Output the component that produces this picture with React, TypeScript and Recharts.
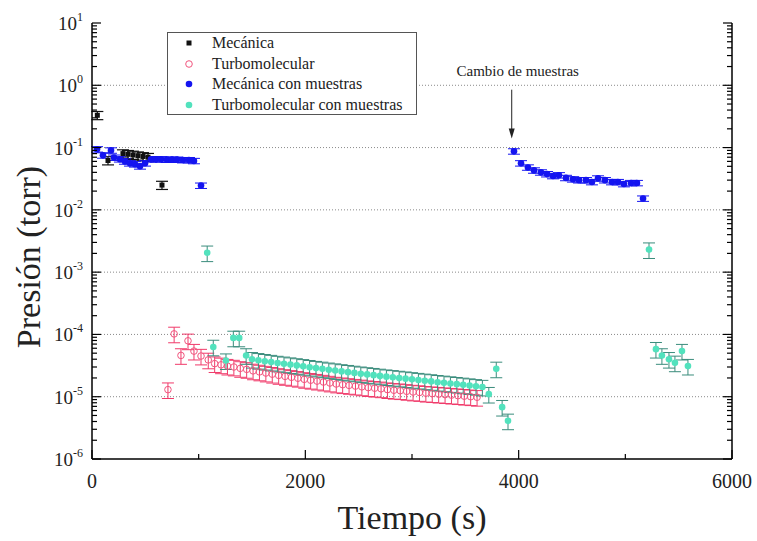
import React from 'react'
import { ScatterChart, Scatter, XAxis, YAxis, ErrorBar, ReferenceLine, Legend } from 'recharts'

const SERIF = '"Liberation Serif", "Times New Roman", Times, serif'

// Mecánica
const mecanicaT = [50, 150, 290, 337, 384, 431, 478, 525, 656]
const mecanicaP = [0.33, 0.062, 0.08, 0.078, 0.076, 0.074, 0.072, 0.07, 0.025]

// Turbomolecular
const turboT = [
  712, 770, 834, 900, 956, 1022, 1090, 1150, 1210, 1270, 1330, 1390, 1450, 1510, 1570, 1630, 1690,
  1750, 1810, 1870, 1930, 1990, 2050, 2110, 2170, 2230, 2290, 2350, 2410, 2470, 2530, 2590, 2650,
  2710, 2770, 2830, 2890, 2950, 3010, 3070, 3130, 3190, 3250, 3310, 3370, 3430, 3490, 3550, 3610,
]
const turboP = [
  1.3e-5, 1.02e-4, 4.6e-5, 7.9e-5, 5.4e-5, 4.5e-5, 3.9e-5, 3.4e-5, 3.25e-5, 3.1e-5, 3.0e-5, 2.85e-5,
  2.75e-5, 2.6e-5, 2.5e-5, 2.4e-5, 2.3e-5, 2.2e-5, 2.12e-5, 2.05e-5, 1.98e-5, 1.9e-5, 1.84e-5,
  1.78e-5, 1.72e-5, 1.66e-5, 1.6e-5, 1.56e-5, 1.52e-5, 1.48e-5, 1.44e-5, 1.4e-5, 1.37e-5, 1.34e-5,
  1.3e-5, 1.27e-5, 1.25e-5, 1.22e-5, 1.19e-5, 1.17e-5, 1.14e-5, 1.12e-5, 1.1e-5, 1.08e-5, 1.06e-5,
  1.04e-5, 1.02e-5, 1.0e-5, 0.98e-5,
]

// Mecánica con muestras
const mecMuestrasT = [
  47, 103, 178, 206, 262, 309, 356, 403, 450, 497, 553, 600, 647, 703, 750, 797, 853, 909, 956, 1022,
  3956, 4022, 4087, 4144, 4209, 4266, 4322, 4378, 4444, 4509, 4566, 4631, 4687, 4744, 4809, 4875,
  4931, 4987, 5053, 5109, 5166,
]
const mecMuestrasP = [
  0.094, 0.075, 0.09, 0.069, 0.065, 0.06, 0.056, 0.054, 0.05, 0.056, 0.065, 0.065, 0.065, 0.064,
  0.064, 0.064, 0.063, 0.063, 0.061, 0.0245,
  0.087, 0.056, 0.048, 0.043, 0.04, 0.0375, 0.035, 0.036, 0.0326, 0.031, 0.03, 0.03, 0.028, 0.032,
  0.03, 0.028, 0.028, 0.026, 0.027, 0.027, 0.0152,
]

// Turbomolecular con muestras
const turboMuestrasT = [
  1080, 1137, 1256, 1325, 1380, 1445, 1500, 1560, 1620, 1680, 1740, 1800, 1860, 1920, 1980, 2040,
  2100, 2160, 2220, 2280, 2340, 2400, 2460, 2520, 2580, 2640, 2700, 2760, 2820, 2880, 2940, 3000,
  3060, 3120, 3180, 3240, 3300, 3360, 3420, 3480, 3540, 3600, 3660, 3720, 3790, 3845, 3900,
  5222, 5287, 5343, 5409, 5465, 5531, 5587,
]
const turboMuestrasP = [
  2.05e-3, 6.3e-5, 3.8e-5, 8.8e-5, 8.8e-5, 4.6e-5, 4.0e-5, 3.85e-5, 3.72e-5, 3.6e-5, 3.48e-5,
  3.38e-5, 3.28e-5, 3.18e-5, 3.08e-5, 2.98e-5, 2.88e-5, 2.8e-5, 2.71e-5, 2.63e-5, 2.55e-5, 2.48e-5,
  2.41e-5, 2.34e-5, 2.28e-5, 2.22e-5, 2.16e-5, 2.1e-5, 2.05e-5, 2.0e-5, 1.95e-5, 1.9e-5, 1.85e-5,
  1.8e-5, 1.76e-5, 1.71e-5, 1.67e-5, 1.63e-5, 1.59e-5, 1.55e-5, 1.51e-5, 1.47e-5, 1.43e-5, 1.1e-5,
  2.8e-5, 6.8e-6, 4.1e-6,
  2.3e-3, 5.8e-5, 4.6e-5, 4.0e-5, 3.5e-5, 5.4e-5, 3.1e-5,
]

// incertidumbre relativa de cada medidor
const errMecanica = 0.15
const errTurbo = 0.28
const errMecMuestras = 0.1
const errTurboMuestras = 0.28

const xTicks = [0, 1000, 2000, 3000, 4000, 5000, 6000]
const decades = [-6, -5, -4, -3, -2, -1, 0, 1]
const gridDecades = [1, 0.1, 0.01, 1e-3, 1e-4, 1e-5]

const yTicks = decades.flatMap((d) =>
  d === 1 ? [10] : [1, 2, 3, 4, 5, 6, 7, 8, 9].map((m) => m * Math.pow(10, d))
)

const build = (t: number[], p: number[], rel: number) =>
  t.map((x, i) => ({ t: x, p: p[i], e: p[i] * rel }))

const COLORS = {
  black: '#111111',
  pink: '#f2557e',
  pinkBar: '#f03a6a',
  blue: '#1414f0',
  teal: '#52e2bd',
  tealBar: '#3a8c7c',
}

const isMajor = (v: number) => {
  const exp = Math.round(Math.log10(v))
  return Math.abs(v / Math.pow(10, exp) - 1) < 1e-6
}

const LeftTick = ({ x, y, payload }: any) => {
  const axisX = x + 6
  const v = payload.value
  const major = isMajor(v)
  const exp = Math.round(Math.log10(v))
  return (
    <g>
      <line x1={axisX} x2={axisX + (major ? 9 : 5)} y1={y} y2={y} stroke="#000" strokeWidth={1.2} />
      {major && (
        <text x={axisX - 9} y={y + 7} textAnchor="end" fontFamily={SERIF} fontSize={19} fill="#222">
          10
          <tspan dy={-9} fontSize={12}>
            {exp}
          </tspan>
        </text>
      )}
    </g>
  )
}

const RightTick = ({ x, y, payload }: any) => {
  const axisX = x - 6
  const major = isMajor(payload.value)
  return <line x1={axisX} x2={axisX - (major ? 9 : 5)} y1={y} y2={y} stroke="#000" strokeWidth={1.2} />
}

const BottomTick = ({ x, y, payload }: any) => {
  const axisY = y - 6
  const major = payload.value % 2000 === 0
  return (
    <g>
      <line x1={x} x2={x} y1={axisY} y2={axisY - (major ? 9 : 5)} stroke="#000" strokeWidth={1.2} />
      {major && (
        <text x={x} y={axisY + 29} textAnchor="middle" fontFamily={SERIF} fontSize={20} fill="#222">
          {payload.value}
        </text>
      )}
    </g>
  )
}

const TopTick = ({ x, y, payload }: any) => {
  const axisY = y + 6
  const major = payload.value % 2000 === 0
  return <line x1={x} x2={x} y1={axisY} y2={axisY + (major ? 9 : 5)} stroke="#000" strokeWidth={1.2} />
}

const SquareDot = ({ cx, cy }: any) => <rect x={cx - 2.5} y={cy - 2.5} width={5} height={5} fill={COLORS.black} />
const OpenDot = ({ cx, cy }: any) => <circle cx={cx} cy={cy} r={3.3} fill="none" stroke={COLORS.pink} strokeWidth={1} />
const BlueDot = ({ cx, cy }: any) => <circle cx={cx} cy={cy} r={3.3} fill={COLORS.blue} />
const TealDot = ({ cx, cy }: any) => <circle cx={cx} cy={cy} r={3.3} fill={COLORS.teal} />

const ArrowNote = ({ x1, y1, x2, y2 }: any) => (
  <g>
    <text x={x1 + 6} y={y1 - 14} textAnchor="middle" fontFamily={SERIF} fontSize={15} fill="#222">
      Cambio de muestras
    </text>
    <line x1={x1} y1={y1} x2={x2} y2={y2 - 8} stroke="#222" strokeWidth={1} />
    <polygon points={`${x2},${y2} ${x2 - 3},${y2 - 10} ${x2 + 3},${y2 - 10}`} fill="#222" />
  </g>
)

const legendItems = [
  { name: 'Mecánica', Dot: SquareDot },
  { name: 'Turbomolecular', Dot: OpenDot },
  { name: 'Mecánica con muestras', Dot: BlueDot },
  { name: 'Turbomolecular con muestras', Dot: TealDot },
]

const LegendBox = () => (
  <div
    style={{
      border: '1px solid #555',
      background: '#fff',
      width: 250,
      height: 83,
      boxSizing: 'border-box',
      fontFamily: SERIF,
      fontSize: 16,
      color: '#222',
    }}
  >
    {legendItems.map(({ name, Dot }) => (
      <div key={name} style={{ height: 20.5, display: 'flex', alignItems: 'center' }}>
        <svg width={44} height={20} style={{ flex: 'none' }}>
          <Dot cx={21} cy={10} />
        </svg>
        <span style={{ lineHeight: '20px' }}>{name}</span>
      </div>
    ))}
  </div>
)

const XTitle = ({ viewBox }: any) => (
  <text
    x={viewBox.x + viewBox.width / 2}
    y={viewBox.y + 70}
    textAnchor="middle"
    fontFamily={SERIF}
    fontSize={34}
    fill="#222"
  >
    Tiempo (s)
  </text>
)

const YTitle = ({ viewBox }: any) => {
  const cx = 40
  const cy = viewBox.y + viewBox.height / 2 + 16
  return (
    <text
      x={cx}
      y={cy}
      transform={`rotate(-90, ${cx}, ${cy})`}
      textAnchor="middle"
      fontFamily={SERIF}
      fontSize={34}
      fill="#222"
    >
      Presión (torr)
    </text>
  )
}

export default function App() {
  const mecanica = build(mecanicaT, mecanicaP, errMecanica)
  const turbo = build(turboT, turboP, errTurbo)
  const mecMuestras = build(mecMuestrasT, mecMuestrasP, errMecMuestras)
  const turboMuestras = build(turboMuestrasT, turboMuestrasP, errTurboMuestras)

  return (
    <div style={{ position: 'fixed', left: 0, top: 0, width: 757, height: 541, background: '#fff' }}>
      <ScatterChart width={757} height={541} margin={{ top: 23, right: 24, bottom: 0, left: 32 }}>
        <XAxis
          dataKey="t"
          type="number"
          domain={[0, 6000]}
          ticks={xTicks}
          interval={0}
          tickLine={false}
          tickSize={0}
          tickMargin={6}
          tick={(p: any) => <BottomTick {...p} />}
          axisLine={{ stroke: '#000', strokeWidth: 1.5 }}
          height={82}
          allowDataOverflow
          label={(p: any) => <XTitle {...p} />}
        />
        <XAxis
          xAxisId="top"
          orientation="top"
          type="number"
          domain={[0, 6000]}
          ticks={xTicks}
          interval={0}
          tickLine={false}
          tickSize={0}
          tickMargin={6}
          tick={(p: any) => <TopTick {...p} />}
          axisLine={{ stroke: '#000', strokeWidth: 1.5 }}
          height={0}
          allowDataOverflow
        />
        <YAxis
          dataKey="p"
          type="number"
          scale="log"
          domain={[1e-6, 10]}
          ticks={yTicks}
          interval={0}
          tickLine={false}
          tickSize={0}
          tickMargin={6}
          tick={(p: any) => <LeftTick {...p} />}
          axisLine={{ stroke: '#000', strokeWidth: 1.5 }}
          width={60}
          allowDataOverflow
          label={(p: any) => <YTitle {...p} />}
        />
        <YAxis
          yAxisId="right"
          orientation="right"
          type="number"
          scale="log"
          domain={[1e-6, 10]}
          ticks={yTicks}
          interval={0}
          tickLine={false}
          tickSize={0}
          tickMargin={6}
          tick={(p: any) => <RightTick {...p} />}
          axisLine={{ stroke: '#000', strokeWidth: 1.5 }}
          width={1}
          allowDataOverflow
        />

        {gridDecades.map((d) => (
          <ReferenceLine key={d} y={d} stroke="#8a8a8a" strokeDasharray="1 2" strokeWidth={1} />
        ))}

        <ReferenceLine
          segment={[
            { x: 3935, y: 0.85 },
            { x: 3935, y: 0.14 },
          ]}
          shape={(p: any) => <ArrowNote {...p} />}
        />

        <Scatter name="Mecánica" data={mecanica} shape={SquareDot} isAnimationActive={false}>
          <ErrorBar dataKey="e" direction="y" width={6} stroke={COLORS.black} strokeWidth={1.2} />
        </Scatter>
        <Scatter name="Turbomolecular" data={turbo} shape={OpenDot} isAnimationActive={false}>
          <ErrorBar dataKey="e" direction="y" width={6} stroke={COLORS.pinkBar} strokeWidth={1} />
        </Scatter>
        <Scatter name="Mecánica con muestras" data={mecMuestras} shape={BlueDot} isAnimationActive={false}>
          <ErrorBar dataKey="e" direction="y" width={6} stroke={COLORS.blue} strokeWidth={1} />
        </Scatter>
        <Scatter name="Turbomolecular con muestras" data={turboMuestras} shape={TealDot} isAnimationActive={false}>
          <ErrorBar dataKey="e" direction="y" width={6} stroke={COLORS.tealBar} strokeWidth={1} />
        </Scatter>

        <Legend
          layout="vertical"
          align="center"
          verticalAlign="middle"
          wrapperStyle={{ left: 167, top: 32, width: 250, height: 83 }}
          content={() => <LegendBox />}
        />
      </ScatterChart>
    </div>
  )
}
